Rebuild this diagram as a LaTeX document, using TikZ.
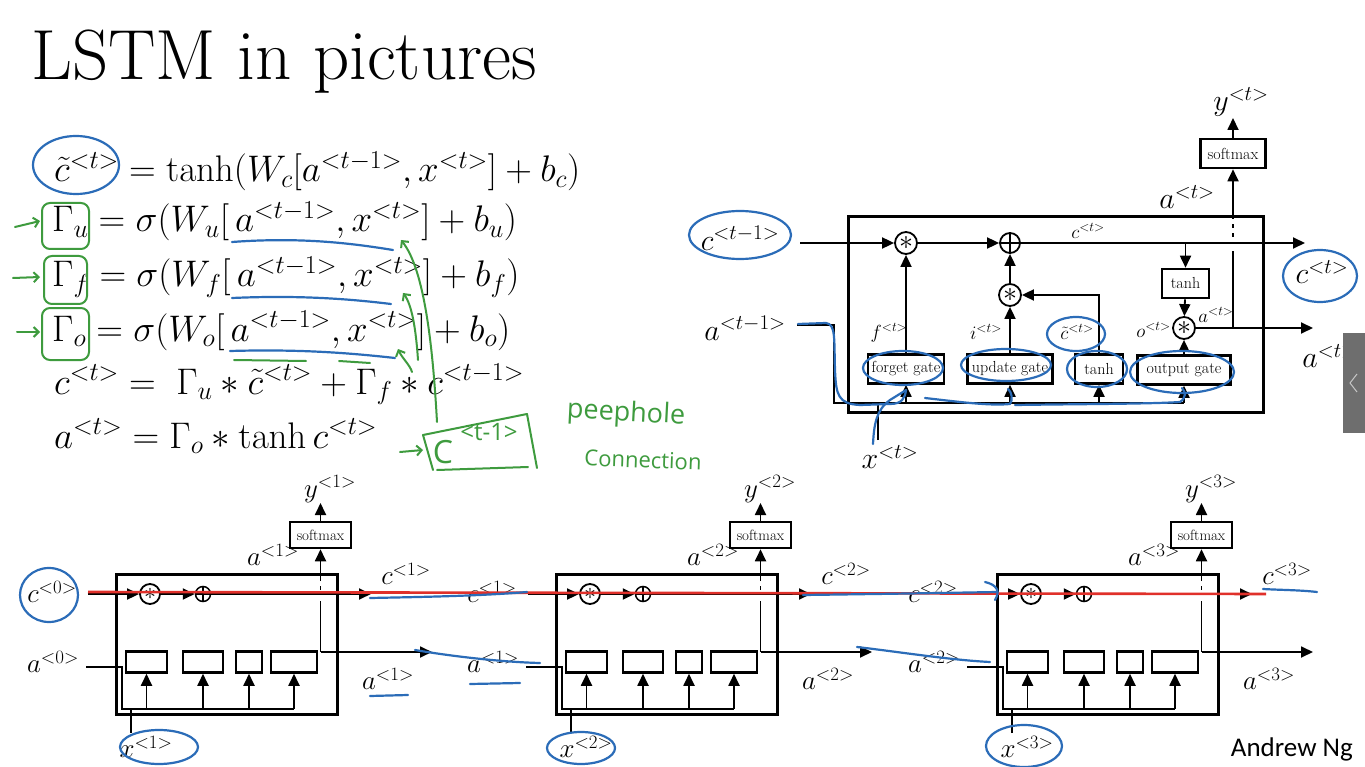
\RequirePackage{fix-cm}
\documentclass[tikz,border=0pt]{standalone}
\usepackage[no-math]{fontspec}
\newfontfamily\carlito{Carlito}
\newfontfamily\handfont{Open Sans}
\usetikzlibrary{arrows.meta}
\newcommand\fsz[1]{\fontsize{#1}{#1}\selectfont}
\definecolor{annblue}{HTML}{2B6CB8}
\definecolor{anngreen}{HTML}{3E9B3E}
\definecolor{annred}{HTML}{E0302A}
\definecolor{tabgray}{HTML}{6E6E6E}
\tikzset{
 ln/.style={line width=1.8pt},
 arr/.style={line width=1.8pt,-{Triangle[length=12pt,width=11pt]}},
 cellbox/.style={line width=3pt},
 gbox/.style={draw,line width=2.6pt,inner sep=0pt,minimum height=29pt,font=\fsz{16}},
 sbox/.style={draw,line width=2.5pt,inner sep=0pt,minimum height=21pt},
 mulc/.style={draw,circle,line width=1.8pt,inner sep=0pt,minimum size=22pt,font=\fsz{28}},
 plusc/.style={draw,circle,line width=1.8pt,inner sep=0pt,minimum size=20pt},
 mulb/.style={draw,circle,line width=1.8pt,inner sep=0pt,minimum size=20pt,font=\fsz{24}},
 plusb/.style={draw,circle,line width=1.5pt,inner sep=0pt,minimum size=15pt},
 lbl/.style={font=\fsz{30},inner sep=0pt},
 slbl/.style={font=\fsz{19},inner sep=0pt},
 blbl/.style={font=\fsz{27},inner sep=0pt},
 eq/.style={font=\fsz{37},inner sep=0pt,anchor=base west},
 bluepen/.style={draw=annblue,line width=2.2pt,line cap=round,line join=round},
 greenpen/.style={draw=anngreen,line width=2pt,line cap=round,line join=round},
 gtip/.style={-{Straight Barb[length=5pt,width=10pt]}},
 redpen/.style={draw=annred,line width=2.6pt},
}
\newcommand\bcell[4]{%
 \begin{scope}[shift={(#1,0)}]
 \draw[cellbox] (116,574) rectangle (337,714);
 \node[mulb] (m#2) at (150,594) {$\ast$};
 \node[plusb] (p#2) at (203,594) {};
 \draw[line width=1.5pt] (p#2.north)--(p#2.south) (p#2.west)--(p#2.east);
 \node[sbox,minimum width=61pt,minimum height=26pt,font=\fsz{15}] (s#2) at (320.5,535) {softmax};
 \node[sbox,minimum width=41pt] (ga#2) at (146.5,662) {};
 \node[sbox,minimum width=40pt] (gb#2) at (203,662) {};
 \node[sbox,minimum width=26pt] (gc#2) at (249,662) {};
 \node[sbox,minimum width=46pt] (gd#2) at (294,662) {};
 \coordinate (ci#2) at (88,594);
 \coordinate (co#2) at (371,594);
 \coordinate (br#2) at (320.5,652);
 \coordinate (ao#2) at (432,652);
 \coordinate (ai#2) at (86,667);
 \coordinate (bs#2) at (122,709);
 \coordinate (xi#2) at (131,733);
 \coordinate (yo#2) at (320.5,503);
 \draw[arr] (ci#2) -- (m#2);
 \draw[arr] (m#2) -- (p#2);
 \draw[arr] (p#2) -- (co#2);
 \draw[ln] (br#2) -- (320.5,601);
 \draw[ln] (320.5,590) -- (320.5,586);
 \draw[arr] (320.5,581) -- (s#2.south);
 \draw[arr] (br#2) -- (ao#2);
 \draw[arr] (s#2) -- (yo#2);
 \draw[ln] (ai#2) -| (bs#2) -- (gd#2.south |- bs#2);
 \draw[arr] (ga#2.south |- bs#2) -- (ga#2.south);
 \draw[arr] (gb#2.south |- bs#2) -- (gb#2.south);
 \draw[arr] (gc#2.south |- bs#2) -- (gc#2.south);
 \draw[arr] (gd#2.south |- bs#2) -- (gd#2.south);
 \draw[ln] (xi#2) -- (xi#2 |- bs#2);
 \node[blbl] (lc#2) at (52,592) {$c^{<#3>}$};
 \node[blbl] (la#2) at (53,662) {$a^{<#3>}$};
 \node[blbl] (rc#2) at (406,574) {$c^{<#4>}$};
 \node[blbl] (ra#2) at (388,679) {$a^{<#4>}$};
 \node[blbl] (ly#2) at (330,489) {$y^{<#4>}$};
 \node[blbl] (ta#2) at (273,555) {$a^{<#4>}$};
 \node[blbl] (lx#2) at (146,747) {$x^{<#4>}$};
 \end{scope}}
\begin{document}
\begin{tikzpicture}[x=1pt,y=-1pt]
\useasboundingbox (0,0) rectangle (1365,767);
\fill[white] (0,0) rectangle (1365,767);
% title
\node[anchor=base west,inner sep=0pt,font=\fsz{71}] (title) at (31,80) {LSTM in pictures};
% equations
\node[eq] (e1) at (54,182) {$\tilde{c}^{<t>} = \tanh(W_c[a^{<t-1>}, x^{<t>}] + b_c)$};
\node[eq] (e2) at (52,232) {$\Gamma_u = \sigma(W_u[\,a^{<t-1>}, x^{<t>}] + b_u)$};
\node[eq] (e3) at (52,287) {$\Gamma_f = \sigma(W_f[\,a^{<t-1>}, x^{<t>}] + b_f)$};
\node[eq] (e4) at (52,341) {$\Gamma_o = \sigma(W_o[\,a^{<t-1>}, x^{<t>}] + b_o)$};
\node[eq] (e5) at (54,394) {$c^{<t>} = \;\Gamma_u \ast \tilde{c}^{<t>} + \Gamma_f \ast c^{<t-1>}$};
\node[eq] (e6) at (54,448) {$a^{<t>} = \Gamma_o \ast \tanh c^{<t>}$};
% ---------- top cell ----------
\draw[cellbox] (848,217) rectangle (1263,412);
\node[lbl] (ctm1) at (740,238) {$c^{<t-1>}$};
\node[lbl] (atm1) at (745,328) {$a^{<t-1>}$};
\node[lbl] (xt) at (890,457) {$x^{<t>}$};
\node[mulc] (mf) at (906,243) {$\ast$};
\node[plusc] (pl) at (1010,243) {};
\draw[ln] (pl.north)--(pl.south) (pl.west)--(pl.east);
\node[mulc] (mi) at (1010,295) {$\ast$};
\node[mulc] (mo) at (1184,328) {$\ast$};
\node[gbox,minimum width=47pt] (tht) at (1185.5,283.5) {tanh};
\node[gbox,minimum width=65pt] (smt) at (1233,153.5) {softmax};
\node[gbox,minimum width=76pt] (fg) at (906,369) {forget gate};
\node[gbox,minimum width=85pt] (ug) at (1010,369) {update gate};
\node[gbox,minimum width=48pt] (tg) at (1099,369) {tanh};
\node[gbox,minimum width=93pt] (og) at (1184,370) {output gate};
\coordinate (cin) at (800,243);
\coordinate (cout) at (1305,243);
\coordinate (ctap) at (1185.5,243);
\coordinate (aout) at (1313,328);
\coordinate (abr) at (1233,328);
\coordinate (yt) at (1233,118);
\coordinate (ain) at (797,325);
\coordinate (bus) at (834,403);
\coordinate (xs) at (878,440);
\draw[arr] (cin) -- (mf);
\draw[arr] (mf) -- (pl);
\draw[arr] (pl) -- (cout);
\draw[arr] (ctap) -- (tht.north);
\draw[arr] (tht) -- (mo);
\draw[arr] (mo) -- (aout);
\draw[ln] (abr) -- (1233,251);
\draw[ln] (1233,237) -- (1233,233);
\draw[ln] (1233,228) -- (1233,224);
\draw[arr] (1233,219) -- (smt.south);
\draw[arr] (smt) -- (yt);
\draw[arr] (fg) -- (mf);
\draw[arr] (ug) -- (mi);
\draw[arr] (mi) -- (pl);
\draw[arr] (og) -- (mo);
\draw[arr] (tg.north) |- (mi.east);
\draw[ln] (ain) -| (bus) -- (og.south |- bus);
\draw[arr] (fg.south |- bus) -- (fg.south);
\draw[arr] (ug.south |- bus) -- (ug.south);
\draw[arr] (tg.south |- bus) -- (tg.south);
\draw[arr] (og.south |- bus) -- (og.south);
\draw[ln] (xs) -- (xs |- bus);
\node[slbl] (lct) at (1088,231) {$c^{<t>}$};
\node[slbl] (lft) at (889,333) {$f^{<t>}$};
\node[slbl] (lit) at (986,332) {$i^{<t>}$};
\node[slbl] (lctl) at (1077,332) {$\tilde{c}^{<t>}$};
\node[slbl,anchor=east] (lot) at (1171,330) {$o^{<t>}$};
\node[slbl] (lat) at (1216,315) {$a^{<t>}$};
\node[lbl] (lat2) at (1187,197) {$a^{<t>}$};
\node[lbl] (lyt) at (1241,102) {$y^{<t>}$};
\node[lbl] (lcr) at (1322,272) {$c^{<t>}$};
\node[lbl] (lar) at (1330,356) {$a^{<t>}$};
% ---------- bottom cells ----------
\bcell{0}{1}{0}{1}
\bcell{440}{2}{1}{2}
\bcell{881}{3}{2}{3}
% ---------- annotations ----------
\draw[redpen] (88,592) -- (1266,594);
% blue, equations
\draw[bluepen] (76,165) ellipse [x radius=43, y radius=29];
\draw[bluepen] (232,242) .. controls (300,237) and (350,243) .. (393,250);
\draw[bluepen] (232,298) .. controls (300,295) and (350,299) .. (391,304);
\draw[bluepen] (230,351) .. controls (300,349) and (350,353) .. (395,358);
% blue, top cell
\draw[bluepen] (740,235) ellipse [x radius=51, y radius=24];
\draw[bluepen] (1320,276) ellipse [x radius=37, y radius=26];
\draw[bluepen] (1076,334) ellipse [x radius=29, y radius=17];
\draw[bluepen] (903,368) ellipse [x radius=40, y radius=17];
\draw[bluepen] (1006,365) ellipse [x radius=45, y radius=16];
\draw[bluepen] (1097,369) ellipse [x radius=30, y radius=18];
\draw[bluepen] (1182,372) ellipse [x radius=52, y radius=21];
\draw[bluepen] (798,324) -- (826,323) .. controls (836,324) and (834,340) .. (835,370) .. controls (836,395) and (838,404) .. (860,405) -- (890,404) .. controls (902,404) and (905,398) .. (906,390);
\draw[bluepen] (925,398) .. controls (960,402) and (990,406) .. (1010,404) .. controls (1013,400) and (1012,392) .. (1008,389);
\draw[bluepen] (1015,405) .. controls (1080,404) and (1150,404) .. (1180,402) .. controls (1186,398) and (1186,392) .. (1182,388);
\draw[bluepen] (873,444) .. controls (874,425) and (876,410) .. (890,400) .. controls (898,395) and (903,392) .. (906,390);
% blue, bottom
\draw[bluepen] (49,595) ellipse [x radius=29, y radius=27];
\draw[bluepen] (159,747) ellipse [x radius=39, y radius=17];
\draw[bluepen] (581,748) ellipse [x radius=34, y radius=16];
\draw[bluepen] (1024,746) ellipse [x radius=38, y radius=21];
\draw[bluepen] (370,598) .. controls (420,597) and (480,596) .. (527,592);
\draw[bluepen] (415,650) .. controls (450,656) and (500,662) .. (540,663);
\draw[bluepen] (370,696) -- (408,695);
\draw[bluepen] (470,684) -- (520,683);
\draw[bluepen] (803,595) .. controls (880,594) and (940,593) .. (997,592);
\draw[bluepen] (985,582) .. controls (998,585) and (1000,592) .. (995,600);
\draw[bluepen] (857,647) .. controls (900,652) and (950,660) .. (990,662);
\draw[bluepen] (1263,589) .. controls (1280,590) and (1300,590) .. (1317,592);
% green
\draw[greenpen,rounded corners=8pt] (42,203) rectangle (89,249);
\draw[greenpen,rounded corners=8pt] (44,256) rectangle (87,304);
\draw[greenpen,rounded corners=8pt] (42,308) rectangle (89,360);
\draw[greenpen,gtip] (15,227) -- (40,221);
\draw[greenpen,gtip] (13,278) -- (40,277);
\draw[greenpen,gtip] (17,332) -- (40,332);
\draw[greenpen] (234,360) -- (306,361);
\draw[greenpen] (339,361) -- (370,363);
\draw[greenpen] (423,435) -- (527,414) -- (537,468);
\draw[greenpen] (423,435) -- (433,470);
\draw[greenpen] (437,470) -- (528,467);
\draw[greenpen,gtip] (400,452) -- (423,450);
\node[text=anngreen,font=\handfont\fsz{32},inner sep=0pt] (gc) at (443,452) {C};
\node[text=anngreen,font=\handfont\fsz{24},inner sep=0pt] (gsup) at (489,432) {<t-1>};
\draw[greenpen,gtip] (437,422) .. controls (433,350) and (425,270) .. (401,240);
\draw[greenpen,gtip] (418,360) .. controls (416,330) and (412,305) .. (403,293);
\draw[greenpen,gtip] (412,372) .. controls (410,365) and (402,358) .. (398,349);
\node[text=anngreen,font=\handfont\fsz{27},inner sep=0pt,rotate=-3] (pp) at (626,414) {peephole};
\node[text=anngreen,font=\handfont\fsz{22},inner sep=0pt,rotate=-2] (pc) at (643,460) {Connection};
% gray tab
\fill[tabgray] (1343,333) rectangle (1365,433);
\draw[gray!45,line width=1pt] (1357,374) -- (1350,383) -- (1357,392);
% signature
\node[anchor=base east,inner sep=0pt,font=\carlito\fsz{27}] (sig) at (1353,756) {Andrew Ng};
\end{tikzpicture}
\end{document}
